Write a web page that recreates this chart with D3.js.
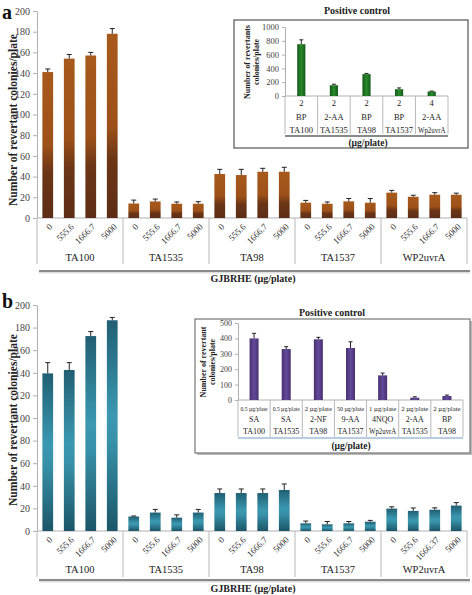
<!DOCTYPE html>
<html>
<head>
<meta charset="utf-8">
<script src="https://cdn.jsdelivr.net/npm/d3@7"></script>
<style>
  body { margin: 0; background: #fff; }
  svg { display: block; }
  svg text { font-family: "Liberation Serif", "Times New Roman", Times, serif !important; }
</style>
</head>
<body>
<script>
// ---------------- DATA ----------------
const groups = ["TA100", "TA1535", "TA98", "TA1537", "WP2uvrA"];
const doses = ["0", "555.6", "1666.7", "5000"];
const dosesWp2B = ["0", "555.6", "1666.37", "5000"];
const yTicksMain = [0, 20, 40, 60, 80, 100, 120, 140, 160, 180, 200];

const valuesA = [[141, 154, 157, 178], [14, 16, 13.8, 13.8], [42.5, 41.5, 44.7, 44.7], [14.8, 13.8, 16.1, 14.8], [24.5, 20.5, 22.5, 22.5]];
const errorsA = [[3, 4, 3, 5], [3.3, 2.3, 1.7, 2], [4.5, 5.5, 3.3, 4.3], [2.2, 1.7, 2.8, 4], [2.2, 1.5, 2, 1.5]];

const valuesB = [[139.5, 142.5, 172.5, 186.5], [12.8, 16.3, 11.8, 16.3], [33.6, 33.6, 33.6, 36.3], [6.8, 5.9, 6.8, 8.2], [19.8, 17.8, 18.8, 22.5]];
const errorsB = [[9.5, 6.5, 4, 2.5], [0.5, 2.8, 2.5, 2.8], [3.6, 3.6, 3.6, 5.3], [2, 2.5, 1.6, 1.2], [1.6, 2.6, 1.7, 2.6]];

const insetARow1 = ["2", "2", "2", "2", "4"];
const insetARow2 = ["BP", "2-AA", "BP", "BP", "2-AA"];
const insetARow3 = ["TA100", "TA1535", "TA98", "TA1537", "Wp2uvrA"];
const insetAValues = [751, 156, 317, 98, 66];
const insetAErrors = [63, 15, 10, 19, 5];
const insetATicks = [0, 200, 400, 600, 800, 1000];

const insetBRow1 = ["0.5 µg/plate", "0.5 µg/plate", "2 µg/plate", "50 µg/plate", "1 µg/plate", "2 µg/plate", "2 µg/plate"];
const insetBRow2 = ["SA", "SA", "2-NF", "9-AA", "4NQO", "2-AA", "BP"];
const insetBRow3 = ["TA100", "TA1535", "TA98", "TA1537", "Wp2uvrA", "TA1535", "TA98"];
const insetBValues = [400, 331, 394, 338, 160, 15, 26];
const insetBErrors = [33, 15, 13, 40, 15, 6, 6];
const insetBTicks = [0, 100, 200, 300, 400, 500];

// ---------------- SVG ----------------
const W = 472, H = 595;
const svg = d3.select("body").append("svg").attr("width", W).attr("height", H)
  .attr("font-family", "Liberation Serif, serif");
const defs = svg.append("defs");

function vGrad(id, stops) {
  const g = defs.append("linearGradient").attr("id", id)
    .attr("x1", 0).attr("y1", 0).attr("x2", 0).attr("y2", 1);
  stops.forEach(s => g.append("stop").attr("offset", s[0]).attr("stop-color", s[1]));
}
function hGrad(id, stops) {
  const g = defs.append("linearGradient").attr("id", id)
    .attr("x1", 0).attr("y1", 0).attr("x2", 1).attr("y2", 0);
  stops.forEach(s => g.append("stop").attr("offset", s[0]).attr("stop-color", s[1]));
}
vGrad("brown", [[0, "#a85a1c"], [0.5, "#9d5119"], [0.68, "#6c3616"], [1, "#5c2d16"]]);
vGrad("teal", [[0, "#215f73"], [0.45, "#3a98b0"], [0.58, "#3791a8"], [1, "#1c5567"]]);
hGrad("green", [[0, "#12581a"], [0.5, "#2a8a2a"], [1, "#12581a"]]);
hGrad("purple", [[0, "#48306f"], [0.5, "#634a9c"], [1, "#48306f"]]);

function styleAxis(ax, fs) {
  ax.attr("font-family", null);
  ax.select(".domain").attr("stroke", "#b0b0b0");
  ax.selectAll(".tick line").attr("stroke", "#b0b0b0");
  ax.selectAll(".tick text").attr("font-size", fs).attr("fill", "#444");
}

function drawMain(cfg) {
  const g = svg.append("g");
  const y = d3.scaleLinear().domain([0, 200]).range([cfg.baseline, cfg.top]);
  const x0 = d3.scaleBand().domain(groups).range([37, 467]).padding(0);
  const x1 = d3.scaleBand().domain(d3.range(4)).range([0, x0.bandwidth()])
    .paddingInner(0.5).paddingOuter(0.25);

  const ax = g.append("g").attr("transform", "translate(37,0)")
    .call(d3.axisLeft(y).tickValues(yTicksMain).tickSize(4).tickSizeOuter(0).tickPadding(3));
  styleAxis(ax, 10);

  g.append("line").attr("x1", 37).attr("x2", 467)
    .attr("y1", y(0)).attr("y2", y(0)).attr("stroke", "#b0b0b0");

  const bounds = groups.map(d => x0(d)).concat([x0.range()[1]]);
  g.selectAll(".div").data(bounds).enter().append("line")
    .attr("x1", d => d).attr("x2", d => d)
    .attr("y1", y(0)).attr("y2", y(0) + cfg.tableH)
    .attr("stroke", "#b8b8b8");

  groups.forEach((grp, gi) => {
    const gg = g.append("g").attr("transform", `translate(${x0(grp)},0)`);
    const vals = cfg.values[gi], errs = cfg.errors[gi];
    gg.selectAll("rect").data(vals).enter().append("rect")
      .attr("x", (d, i) => x1(i)).attr("width", x1.bandwidth())
      .attr("y", d => y(d)).attr("height", d => y(0) - y(d))
      .attr("fill", `url(#${cfg.grad})`);
    vals.forEach((v, i) => {
      const cx = x1(i) + x1.bandwidth() / 2;
      const top = y(v + errs[i]);
      gg.append("line").attr("x1", cx).attr("x2", cx).attr("y1", y(v)).attr("y2", top)
        .attr("stroke", "#222").attr("stroke-width", 1);
      gg.append("line").attr("x1", cx - 2.5).attr("x2", cx + 2.5).attr("y1", top).attr("y2", top)
        .attr("stroke", "#222").attr("stroke-width", 1);
    });
    const labs = cfg.doseLabels[gi];
    labs.forEach((lab, i) => {
      const cx = x1(i) + x1.bandwidth() / 2;
      gg.append("text")
        .attr("transform", `translate(${cx + 3},${y(0) + 7}) rotate(-45)`)
        .attr("text-anchor", "end").attr("dy", "0.35em")
        .attr("font-size", 9).attr("fill", "#333").text(lab);
    });
    gg.append("text").attr("x", x0.bandwidth() / 2).attr("y", cfg.groupLabelY)
      .attr("text-anchor", "middle").attr("font-size", 10.5).attr("fill", "#222").text(grp);
  });

  g.append("line").attr("x1", 39).attr("x2", 470).attr("y1", cfg.thickY).attr("y2", cfg.thickY)
    .attr("stroke", "#8a8a8a").attr("stroke-width", 2);
  g.append("line").attr("x1", 39).attr("x2", 470).attr("y1", cfg.thickY + 1.8).attr("y2", cfg.thickY + 1.8)
    .attr("stroke", "#d0d0d0").attr("stroke-width", 1);

  g.append("text").attr("x", 253).attr("y", cfg.titleY).attr("text-anchor", "middle")
    .attr("font-size", 10).attr("font-weight", "bold").attr("fill", "#222").text("GJBRHE (µg/plate)");

  g.append("text").attr("transform", `translate(17,${cfg.ylabelCY}) rotate(-90)`)
    .attr("text-anchor", "middle").attr("font-size", 13).attr("font-weight", "bold")
    .attr("fill", "#222")
    .attr("textLength", 172).attr("lengthAdjust", "spacingAndGlyphs")
    .text("Number of revertant colonies/plate");

  g.append("text").attr("x", 2).attr("y", cfg.letterY).attr("font-size", 20)
    .attr("font-weight", "bold").attr("fill", "#111").text(cfg.letter);
}

function drawInset(cfg) {
  const g = svg.append("g");
  if (cfg.shadow) {
    g.append("rect").attr("x", cfg.box[0] + 2).attr("y", cfg.box[1] + 2)
      .attr("width", cfg.box[2]).attr("height", cfg.box[3]).attr("fill", "#bbb");
  }
  g.append("rect").attr("x", cfg.box[0]).attr("y", cfg.box[1])
    .attr("width", cfg.box[2]).attr("height", cfg.box[3])
    .attr("fill", "#fff").attr("stroke", cfg.boxStroke).attr("stroke-width", 1.2);

  const y = d3.scaleLinear().domain(cfg.yDomain).range(cfg.yRange);
  const x = d3.scaleBand().domain(d3.range(cfg.values.length)).range(cfg.xRange)
    .paddingInner(cfg.pad).paddingOuter(cfg.pad / 2);
  const ax = g.append("g").attr("transform", `translate(${cfg.xRange[0]},0)`)
    .call(d3.axisLeft(y).tickValues(cfg.ticks).tickSize(3).tickSizeOuter(0).tickPadding(3)
      .tickFormat(d3.format("d")));
  styleAxis(ax, cfg.tickFs);

  const y0 = y(0);
  g.append("line").attr("x1", cfg.xRange[0]).attr("x2", cfg.xRange[1]).attr("y1", y0).attr("y2", y0)
    .attr("stroke", "#b0b0b0");
  const step = (cfg.xRange[1] - cfg.xRange[0]) / cfg.values.length;
  const bounds = d3.range(cfg.values.length + 1).map(i => cfg.xRange[0] + i * step);
  g.selectAll(".div").data(bounds).enter().append("line")
    .attr("x1", d => d).attr("x2", d => d).attr("y1", y0).attr("y2", y0 + cfg.tableH)
    .attr("stroke", "#b8b8b8");

  g.selectAll(".bar").data(cfg.values).enter().append("rect")
    .attr("x", (d, i) => x(i)).attr("width", x.bandwidth())
    .attr("y", d => y(d)).attr("height", d => y0 - y(d)).attr("fill", `url(#${cfg.grad})`);
  cfg.values.forEach((v, i) => {
    const cx = x(i) + x.bandwidth() / 2;
    const top = y(v + cfg.errors[i]);
    g.append("line").attr("x1", cx).attr("x2", cx).attr("y1", y(v)).attr("y2", top)
      .attr("stroke", "#222");
    g.append("line").attr("x1", cx - 2).attr("x2", cx + 2).attr("y1", top).attr("y2", top)
      .attr("stroke", "#222");
  });

  [cfg.row1, cfg.row2, cfg.row3].forEach((row, ri) => {
    row.forEach((t, i) => {
      const tx = g.append("text").attr("x", x(i) + x.bandwidth() / 2).attr("y", cfg.rowY[ri])
        .attr("text-anchor", "middle").attr("font-size", cfg.rowFs[ri]).attr("fill", "#222").text(t);
      const maxW = step - 5;
      const w = tx.node().getComputedTextLength();
      if (w > maxW) tx.attr("textLength", maxW).attr("lengthAdjust", "spacingAndGlyphs");
    });
  });

  g.append("line").attr("x1", cfg.xRange[0]).attr("x2", cfg.xRange[1])
    .attr("y1", cfg.thickY).attr("y2", cfg.thickY)
    .attr("stroke", cfg.thickColor).attr("stroke-width", 2);

  g.append("text").attr("x", cfg.footer[0]).attr("y", cfg.footer[1]).attr("text-anchor", "middle")
    .attr("font-size", 9.5).attr("font-weight", "bold").attr("fill", "#222").text("(µg/plate)");

  g.append("text").attr("x", cfg.title[0]).attr("y", cfg.title[1]).attr("text-anchor", "middle")
    .attr("font-size", 10).attr("font-weight", "bold").attr("fill", "#222").text("Positive control");

  const yl = g.append("text").attr("transform", `translate(${cfg.ylab[0]},${cfg.ylab[1]}) rotate(-90)`)
    .attr("text-anchor", "middle").attr("font-size", 8).attr("font-weight", "bold").attr("fill", "#222");
  yl.append("tspan").attr("x", 0).attr("dy", 0).text(cfg.ylabLines[0]);
  yl.append("tspan").attr("x", 0).attr("dy", 9).text(cfg.ylabLines[1]);
}

// Panel a
drawMain({
  values: valuesA, errors: errorsA,
  doseLabels: groups.map(() => doses),
  baseline: 218, top: 11, grad: "brown",
  tableH: 46, groupLabelY: 261, thickY: 271, titleY: 282,
  ylabelCY: 120, letter: "a", letterY: 19
});
drawInset({
  box: [234, 20, 234, 128], boxStroke: "#555", shadow: false,
  yDomain: [0, 1000], yRange: [96, 27], ticks: insetATicks, tickFs: 8.5,
  xRange: [285, 448], pad: 0.75, grad: "green",
  values: insetAValues, errors: insetAErrors,
  row1: insetARow1, row2: insetARow2, row3: insetARow3,
  rowY: [106, 120, 133], rowFs: [8.5, 8.5, 8.5], tableH: 38,
  thickY: 136, thickColor: "#8a8a8a",
  footer: [368, 146], title: [357, 14],
  ylab: [250, 62], ylabLines: ["Number of revertants", "colonies/plate"]
});

// Panel b
drawMain({
  values: valuesB, errors: errorsB,
  doseLabels: groups.map((g, i) => i === 4 ? dosesWp2B : doses),
  baseline: 531, top: 305, grad: "teal",
  tableH: 46, groupLabelY: 573, thickY: 580, titleY: 592,
  ylabelCY: 420, letter: "b", letterY: 308
});
drawInset({
  box: [195, 319, 275, 134], boxStroke: "#777", shadow: true,
  yDomain: [0, 500], yRange: [400, 323], ticks: insetBTicks, tickFs: 8,
  xRange: [238, 463], pad: 0.72, grad: "purple",
  values: insetBValues, errors: insetBErrors,
  row1: insetBRow1, row2: insetBRow2, row3: insetBRow3,
  rowY: [411, 422, 434], rowFs: [7, 8, 8], tableH: 37,
  thickY: 438, thickColor: "#b8cde2",
  footer: [351, 449], title: [332, 316],
  ylab: [206, 362], ylabLines: ["Number of revertant", "colonies/plate"]
});
</script>
</body>
</html>
